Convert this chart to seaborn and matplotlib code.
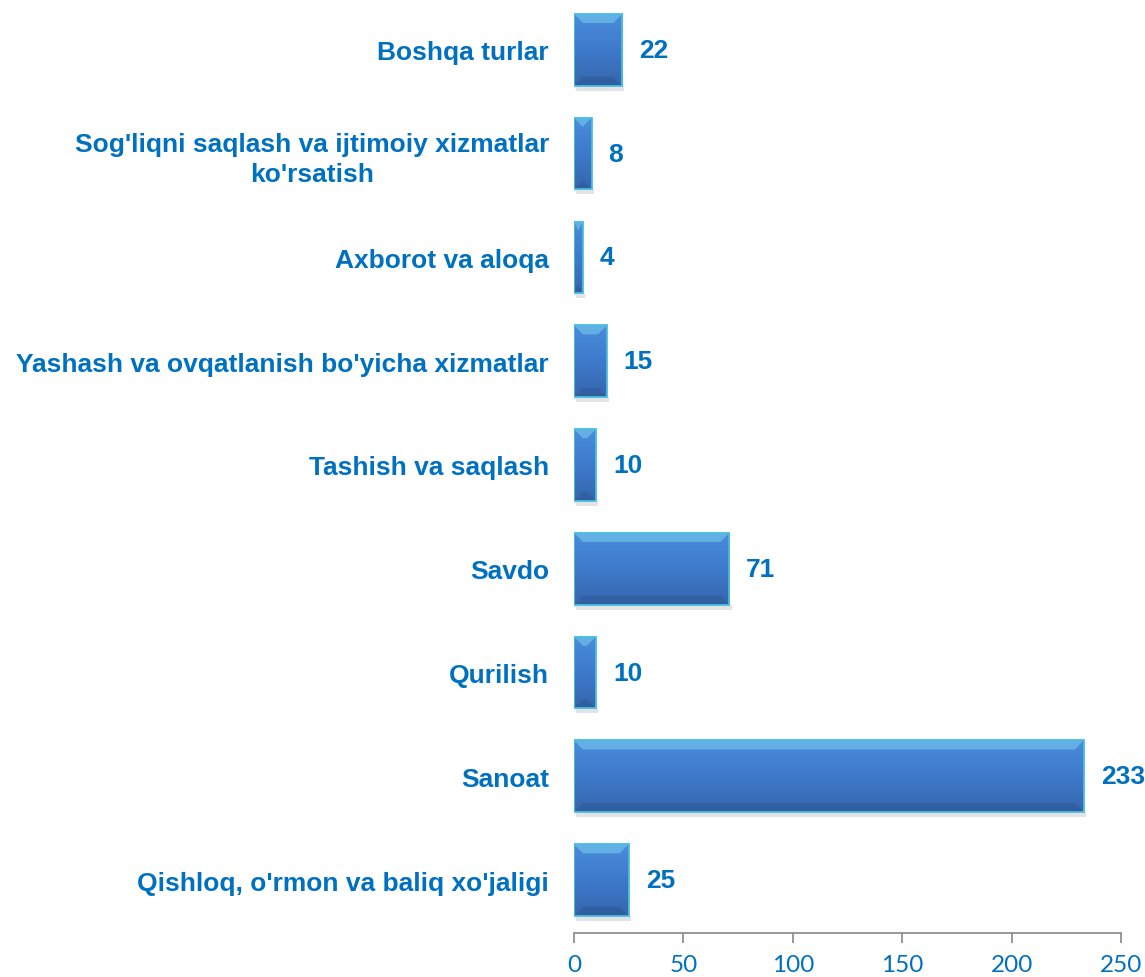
import matplotlib
matplotlib.use("Agg")
import matplotlib.pyplot as plt
import seaborn as sns
import numpy as np
import pandas as pd
from matplotlib.patches import Polygon

categories = [
    "Boshqa turlar",
    "Sog'liqni saqlash va ijtimoiy xizmatlar\nko'rsatish",
    "Axborot va aloqa",
    "Yashash va ovqatlanish bo'yicha xizmatlar",
    "Tashish va saqlash",
    "Savdo",
    "Qurilish",
    "Sanoat",
    "Qishloq, o'rmon va baliq xo'jaligi",
]
values = [22, 8, 4, 15, 10, 71, 10, 233, 25]
x_ticks = [0, 50, 100, 150, 200, 250]

text_blue = "#0070C0"
bar_blue = "#3F7FCC"
edge_cyan = "#45BFE0"

sns.set_theme(style="white")
plt.rcParams["font.family"] = ["Liberation Sans", "DejaVu Sans"]

df = pd.DataFrame({"category": categories, "value": values})

fig = plt.figure(figsize=(11.45, 9.78), dpi=100)
ax = fig.add_axes([574 / 1145, 44 / 978, 547 / 1145, 934 / 978])

sns.barplot(data=df, x="value", y="category", orient="h", ax=ax,
            color=bar_blue, width=0.69, saturation=1, edgecolor=edge_cyan,
            linewidth=1.3)

ax.set_xlim(0, 250)
ax.set_ylim(8.51, -0.49)

# bevel look: gradient fill plus light top / dark bottom facets
px_x = 250 / 547
px_y = 9.0 / 934
grad = np.linspace(0, 1, 64).reshape(-1, 1)
cmap = matplotlib.colors.LinearSegmentedColormap.from_list(
    "bev", ["#4A8CDB", "#3E7ACB", "#3766AE"])
for p in list(ax.patches):
    x0, y0 = p.get_x(), p.get_y()
    w, h = p.get_width(), p.get_height()
    im = ax.imshow(grad, cmap=cmap, aspect="auto", extent=[x0, x0 + w, y0 + h, y0],
                   zorder=p.get_zorder() + 0.1)
    im.set_clip_path(p)
    bx = min(9 * px_x, w / 2)
    by = 9 * px_y
    top = Polygon([[x0, y0], [x0 + w, y0], [x0 + w - bx, y0 + by], [x0 + bx, y0 + by]],
                  closed=True, facecolor="#7FD6F2", alpha=0.5, edgecolor="none",
                  zorder=p.get_zorder() + 0.2)
    bot = Polygon([[x0, y0 + h], [x0 + w, y0 + h], [x0 + w - bx, y0 + h - by],
                   [x0 + bx, y0 + h - by]],
                  closed=True, facecolor="#2A5590", alpha=0.45, edgecolor="none",
                  zorder=p.get_zorder() + 0.2)
    ax.add_patch(top)
    ax.add_patch(bot)
    shadow = Polygon([[x0 + 1, y0 + h], [x0 + w + 1, y0 + h], [x0 + w + 1, y0 + h + 5 * px_y],
                      [x0 + 1, y0 + h + 5 * px_y]], closed=True, facecolor="#B0B0B0",
                     alpha=0.35, edgecolor="none", zorder=p.get_zorder() - 0.1)
    ax.add_patch(shadow)
    p.set_facecolor("none")
    p.set_zorder(p.get_zorder() + 0.3)

for i, v in enumerate(values):
    ax.text(v + 17 * px_x, i, str(v), va="center", ha="left", fontsize=19,
            fontweight="bold", color=text_blue, clip_on=False)

ax.set_xticks(x_ticks)
ax.set_xticklabels([str(t) for t in x_ticks], fontsize=17.5, color=text_blue,
                   family=["Lato", "DejaVu Sans"])
ax.set_yticklabels(categories, fontsize=19, fontweight="bold", color=text_blue,
                   multialignment="center", linespacing=1.3)
ax.tick_params(axis="x", bottom=True, length=7, width=1.2, color="#888888",
               direction="out", pad=8)
ax.tick_params(axis="y", left=False, length=0, pad=18)
ax.set_xlabel("")
ax.set_ylabel("")
for s in ["top", "right", "left"]:
    ax.spines[s].set_visible(False)
ax.spines["bottom"].set_color("#888888")
ax.spines["bottom"].set_linewidth(1.2)

fig.savefig("out.png", dpi=100)
